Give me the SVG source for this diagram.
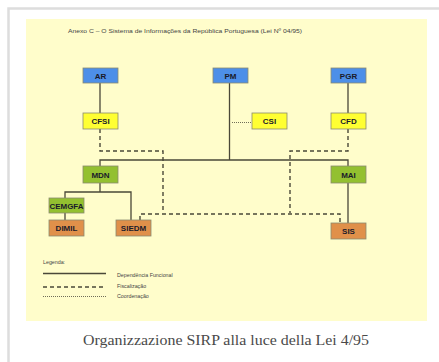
<svg xmlns="http://www.w3.org/2000/svg" width="439" height="362" viewBox="0 0 439 362">
<style>
.n{stroke:#8a8a70;stroke-width:0.8}
.blue{fill:#4d8fe8}
.yel{fill:#ffff33}
.grn{fill:#93c030}
.org{fill:#e0904a}
.t{font-family:"Liberation Sans",Arial,sans-serif;font-weight:bold;font-size:8px;text-anchor:middle;fill:#1a1a2a}
.s{fill:none;stroke:#4a4838;stroke-width:1.3}
.d{fill:none;stroke:#4a4838;stroke-width:1.4;stroke-dasharray:4 3}
.o{fill:none;stroke:#4a4838;stroke-width:0.8;stroke-dasharray:1 1}
.lg{font-family:"Liberation Sans",Arial,sans-serif;font-size:5.3px;fill:#444}
</style>
<rect width="439" height="362" fill="#ffffff"/>
<path d="M8.5 362 V8.5 H439" fill="none" stroke="#dddddd" stroke-width="2.5"/>
<rect x="26" y="19" width="401" height="302" fill="#fffdcb"/>
<text x="68" y="33" font-family="Liberation Sans,Arial,sans-serif" font-size="5.6" fill="#444" textLength="234" lengthAdjust="spacingAndGlyphs">Anexo C – O Sistema de Informações da República Portuguesa (Lei Nº 04/95)</text>
<g id="connectors">
<path class="s" d="M100 83 V113"/>
<path class="s" d="M348 83 V113"/>
<path class="s" d="M229.5 83 V160"/>
<path class="s" d="M100 166 V160 H348 V166"/>
<path class="s" d="M100 183 V192"/>
<path class="s" d="M65 198 V192 H131 V220"/>
<path class="s" d="M65 213 V220"/>
<path class="s" d="M348 183 V223"/>
<path class="o" d="M232 122.5 H252"/>
<path class="d" d="M100 129 V151 H163 V213"/>
<path class="d" d="M348 129 V151 H290 V213"/>
<path class="d" d="M140 220 V214 H340 V223"/>
</g>
<g id="AR"><rect class="n blue" x="83" y="68" width="35" height="15"/><text class="t" x="100.5" y="78.5">AR</text></g>
<g id="PM"><rect class="n blue" x="213" y="68" width="35" height="15"/><text class="t" x="230.5" y="78.5">PM</text></g>
<g id="PGR"><rect class="n blue" x="331" y="68" width="35" height="15"/><text class="t" x="348.5" y="78.5">PGR</text></g>
<g id="CFSI"><rect class="n yel" x="83" y="113" width="35" height="16"/><text class="t" x="100.5" y="124">CFSI</text></g>
<g id="CSI"><rect class="n yel" x="252" y="113" width="35" height="16"/><text class="t" x="269.5" y="124">CSI</text></g>
<g id="CFD"><rect class="n yel" x="331" y="113" width="35" height="16"/><text class="t" x="348.5" y="124">CFD</text></g>
<g id="MDN"><rect class="n grn" x="83" y="166" width="35" height="17"/><text class="t" x="100.5" y="177.5">MDN</text></g>
<g id="MAI"><rect class="n grn" x="331" y="166" width="35" height="17"/><text class="t" x="348.5" y="177.5">MAI</text></g>
<g id="CEMGFA"><rect class="n grn" x="49" y="198" width="35" height="15"/><text class="t" x="66.5" y="208.5" font-size="7.8" textLength="34" lengthAdjust="spacingAndGlyphs">CEMGFA</text></g>
<g id="DIMIL"><rect class="n org" x="49" y="220" width="35" height="16"/><text class="t" x="66.5" y="231">DIMIL</text></g>
<g id="SIEDM"><rect class="n org" x="116" y="220" width="35" height="16"/><text class="t" x="133.5" y="231">SIEDM</text></g>
<g id="SIS"><rect class="n org" x="331" y="223" width="35" height="16"/><text class="t" x="348.5" y="234">SIS</text></g>
<g id="legend">
<text class="lg" x="43" y="264">Legenda:</text>
<path class="s" d="M43 273.5 H106" stroke-width="1.5"/>
<path class="d" d="M43 287 H106"/>
<path class="o" d="M43 296.5 H106"/>
<text class="lg" x="117" y="277">Dependência Funcional</text>
<text class="lg" x="117" y="288">Fiscalização</text>
<text class="lg" x="117" y="298">Coordenação</text>
</g>
<text x="226" y="345" font-family="Liberation Serif,Times New Roman,serif" font-size="14" fill="#4a4a4a" text-anchor="middle" textLength="286" lengthAdjust="spacingAndGlyphs">Organizzazione SIRP alla luce della Lei 4/95</text>
</svg>
